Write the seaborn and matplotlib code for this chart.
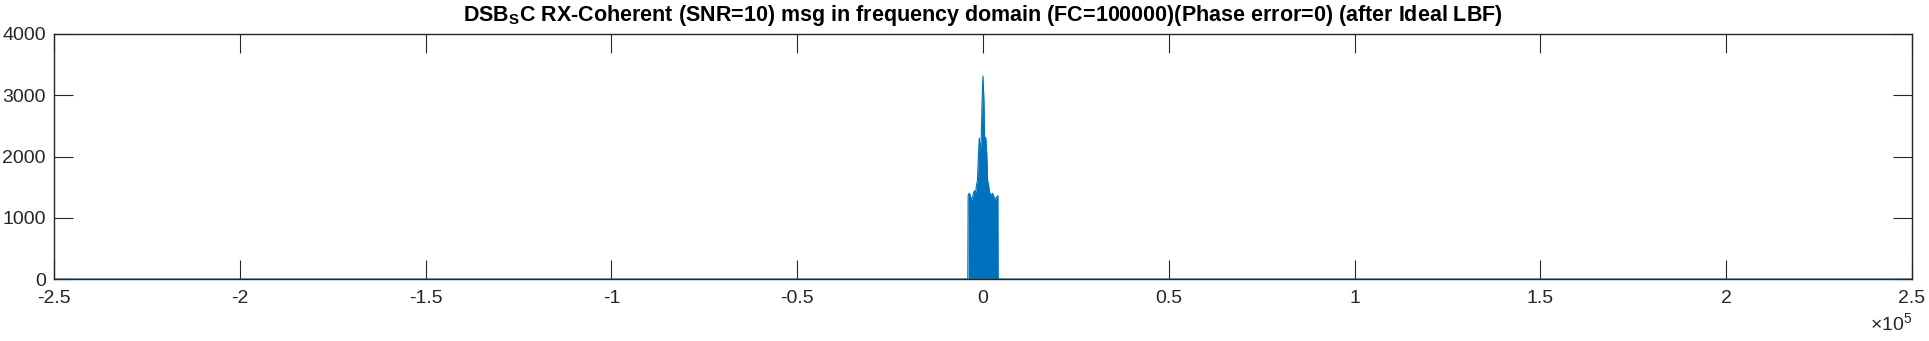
import numpy as np
import pandas as pd
import matplotlib
matplotlib.use("Agg")
import matplotlib.pyplot as plt
import seaborn as sns

# ---- data ----
band_freq_hz = [-4000, -3750, -3500, -3250, -3000, -2750, -2500, -2250, -2000, -1750,
                -1500, -1250, -1000, -750, -500, -250, 0, 250, 500, 750, 1000, 1250,
                1500, 1750, 2000, 2250, 2500, 2750, 3000, 3250, 3500, 3750, 4000]
band_mag = [1360, 1400, 1380, 1320, 1300, 1350, 1420, 1440, 1400, 1540,
            1600, 2000, 2300, 2100, 2250, 2920, 3315, 2900, 2070, 2310, 2050, 1600,
            1530, 1420, 1380, 1350, 1400, 1380, 1330, 1300, 1320, 1340, 1360]
outside_freq_hz = [-250000, -4100, 4100, 250000]
outside_mag = [0, 0, 0, 0]
x_ticks = [-250000, -200000, -150000, -100000, -50000, 0, 50000, 100000, 150000, 200000, 250000]
x_tick_labels = ["-2.5", "-2", "-1.5", "-1", "-0.5", "0", "0.5", "1", "1.5", "2", "2.5"]
y_ticks = [0, 1000, 2000, 3000, 4000]
y_tick_labels = ["0", "1000", "2000", "3000", "4000"]
title = r"DSB$_\mathbf{S}$C RX-Coherent (SNR=10) msg in frequency domain (FC=100000)(Phase error=0) (after Ideal LBF)"

sns.set_style("ticks")
plt.rcParams["font.family"] = ["Liberation Sans", "DejaVu Sans"]
plt.rcParams["mathtext.fontset"] = "custom"
plt.rcParams["mathtext.rm"] = "Liberation Sans"
plt.rcParams["mathtext.bf"] = "Liberation Sans:bold"

AX = "#262626"
BLUE = "#0072BD"

POS = [54 / 1929, 1 - 279 / 341, (1912 - 54) / 1929, (279 - 34) / 341]
fig = plt.figure(figsize=(19.29, 3.41), dpi=100)
ax = fig.add_axes(POS)

full = pd.DataFrame({
    "freq": list(outside_freq_hz[:2]) + list(band_freq_hz) + list(outside_freq_hz[2:]),
    "mag": list(outside_mag[:2]) + list(band_mag) + list(outside_mag[2:]),
})
full = full.sort_values("freq")

ax.fill_between(band_freq_hz, 0, band_mag, color=BLUE, lw=0, zorder=2)
sns.lineplot(data=full, x="freq", y="mag", ax=ax, color=BLUE, lw=0.8,
             sort=False, estimator=None, zorder=3)

ax.set_xlim(-250000, 250000)
ax.set_ylim(0, 4000)
ax.set_xticks(x_ticks)
ax.set_xticklabels(x_tick_labels)
ax.set_yticks(y_ticks)
ax.set_yticklabels(y_tick_labels)
ax.set_xlabel("")
ax.set_ylabel("")

for s in ax.spines.values():
    s.set_visible(True)
    s.set_color(AX)
    s.set_linewidth(1.0)
    s.set_zorder(4)

ax.tick_params(direction="in", length=13.4, width=0.8, colors=AX, labelsize=14,
               top=True, right=True, labelcolor=AX)
ax.tick_params(axis="x", pad=8)
ax.tick_params(axis="y", pad=6)

ax.set_title(title, fontsize=15.5, fontweight="bold", color="black", pad=9.5)

ax.text(1.0, -0.135, r"$\times$10$^{5}$", transform=ax.transAxes, ha="right", va="top",
        fontsize=14, color=AX)

fig.savefig("out.png", dpi=100, facecolor="white")
